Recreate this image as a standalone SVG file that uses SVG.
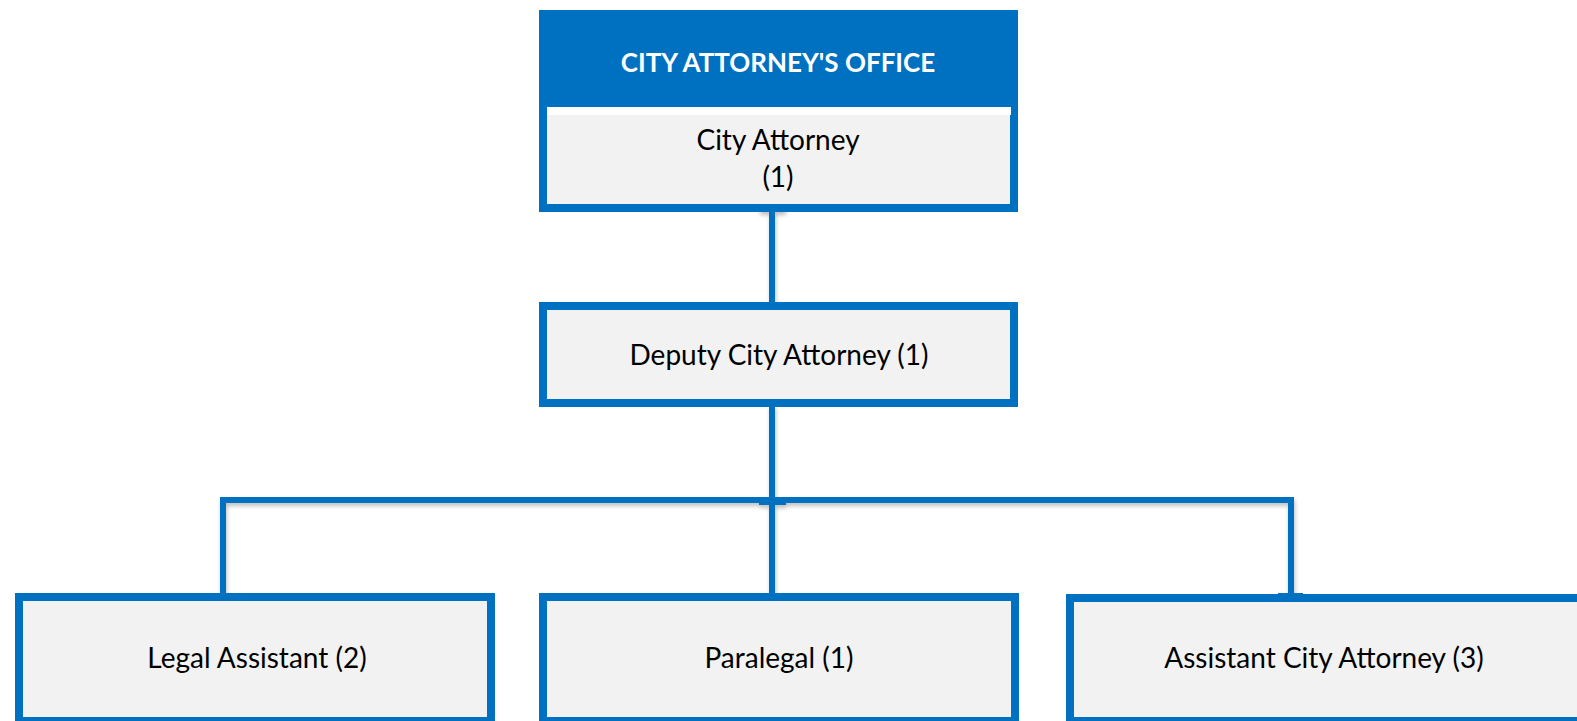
<svg xmlns="http://www.w3.org/2000/svg" width="1577" height="721" viewBox="0 0 1577 721">
  <style>
    .box { fill: #F2F2F2; stroke: #0070C0; stroke-width: 8; }
    .lbl { font-family: Lato, "Open Sans", "Liberation Sans", sans-serif; font-size: 28px; fill: #000000; text-anchor: middle; }
    .title { font-family: Lato, "Open Sans", "Liberation Sans", sans-serif; font-size: 26px; font-weight: bold; fill: #FFFFFF; text-anchor: middle; }
    .wire { stroke: #0070C0; stroke-width: 6; fill: none; }
    .cap { fill: #0070C0; }
  </style>
  <defs>
    <filter id="soft" x="-10%" y="-10%" width="120%" height="140%">
      <feGaussianBlur in="SourceAlpha" stdDeviation="2"/>
      <feOffset dx="1" dy="3" result="b"/>
      <feComponentTransfer><feFuncA type="linear" slope="0.25"/></feComponentTransfer>
      <feMerge><feMergeNode/><feMergeNode in="SourceGraphic"/></feMerge>
    </filter>
  </defs>
  <rect width="1577" height="721" fill="#FFFFFF"/>

  <!-- connectors -->
  <g id="connectors" filter="url(#soft)">
    <line class="wire" x1="772" y1="210" x2="772" y2="304"/>
    <line class="wire" x1="772" y1="405" x2="772" y2="500"/>
    <polyline class="wire" points="223,595 223,500 1291,500 1291,595"/>
    <line class="wire" x1="772" y1="500" x2="772" y2="595"/>
    <rect class="cap" x="759" y="203" width="26" height="9"/>
    <rect class="cap" x="759" y="302" width="26" height="7"/>
    <rect class="cap" x="759" y="497" width="27" height="8"/>
    <rect class="cap" x="210" y="593" width="27" height="9"/>
    <rect class="cap" x="759" y="593" width="27" height="9"/>
    <rect class="cap" x="1278" y="593" width="25" height="9"/>
  </g>

  <!-- office head -->
  <g id="city-attorney">
    <rect x="539" y="10" width="479" height="202" fill="#0070C0"/>
    <rect x="547" y="107" width="464" height="8" fill="#FFFFFF"/>
    <rect x="547" y="115" width="463" height="89" fill="#F2F2F2"/>
    <text class="title" x="778" y="72">CITY ATTORNEY'S OFFICE</text>
    <text class="lbl" x="778" y="150">City Attorney</text>
    <text class="lbl" x="778" y="187">(1)</text>
  </g>

  <g id="deputy-city-attorney">
    <rect class="box" x="543" y="306" width="471" height="97"/>
    <text class="lbl" x="779" y="365">Deputy City Attorney (1)</text>
  </g>

  <g id="legal-assistant">
    <rect class="box" x="19" y="597" width="472" height="124"/>
    <text class="lbl" x="257" y="668">Legal Assistant (2)</text>
  </g>

  <g id="paralegal">
    <rect class="box" x="543" y="597" width="472" height="124"/>
    <text class="lbl" x="779" y="668">Paralegal (1)</text>
  </g>

  <g id="assistant-city-attorney">
    <rect class="box" x="1070" y="598" width="530" height="123"/>
    <text class="lbl" x="1324" y="668">Assistant City Attorney (3)</text>
  </g>
</svg>
